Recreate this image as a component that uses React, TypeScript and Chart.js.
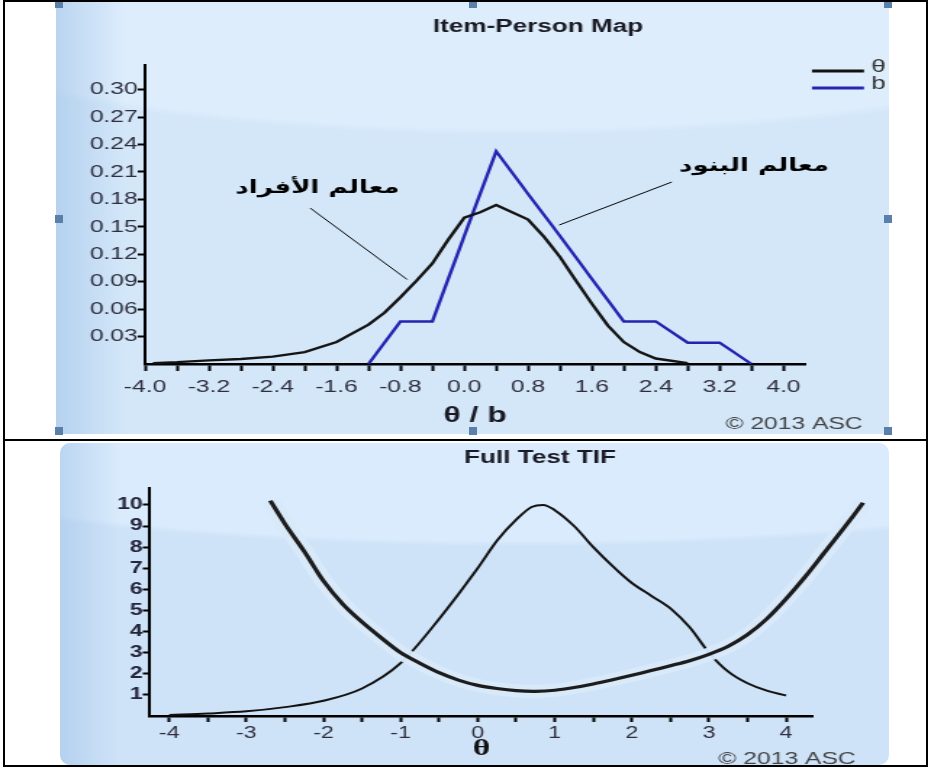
import React, { useEffect, useRef } from 'react';
import { Chart, registerables } from 'chart.js';

Chart.register(...registerables);

// ---------------- Item-Person Map (top) ----------------
const personTheta = [-3.9, -3.6, -3.2, -2.8, -2.4, -2.0, -1.6, -1.2, -1.0, -0.8, -0.6, -0.4, -0.2, 0.0, 0.2, 0.4, 0.8, 1.0, 1.2, 1.4, 1.6, 1.8, 2.0, 2.2, 2.4, 2.8];
const personDensity = [0.001, 0.002, 0.004, 0.0055, 0.008, 0.013, 0.024, 0.043, 0.056, 0.073, 0.091, 0.11, 0.136, 0.16, 0.166, 0.174, 0.158, 0.139, 0.117, 0.091, 0.066, 0.042, 0.024, 0.013, 0.006, 0.001];

const itemB = [-1.2, -0.8, -0.4, 0.0, 0.4, 0.8, 1.2, 1.6, 2.0, 2.4, 2.8, 3.2, 3.6];
const itemDensity = [0, 0.0465, 0.0465, 0.14, 0.2326, 0.186, 0.14, 0.093, 0.0465, 0.0465, 0.0233, 0.0233, 0];

const ipmXTicks = [-4.0, -3.6, -3.2, -2.8, -2.4, -2.0, -1.6, -1.2, -0.8, -0.4, 0.0, 0.4, 0.8, 1.2, 1.6, 2.0, 2.4, 2.8, 3.2, 3.6, 4.0];
const ipmXLabels = ['-4.0', '', '-3.2', '', '-2.4', '', '-1.6', '', '-0.8', '', '0.0', '', '0.8', '', '1.6', '', '2.4', '', '3.2', '', '4.0'];
const ipmYTicks = [0.03, 0.06, 0.09, 0.12, 0.15, 0.18, 0.21, 0.24, 0.27, 0.30];
const ipmYLabels = ['0.03', '0.06', '0.09', '0.12', '0.15', '0.18', '0.21', '0.24', '0.27', '0.30'];

const ipmSeriesNames = ['θ', 'b'];
const ipmNoteTexts = ['معالم الأفراد', 'معالم البنود'];
const ipmNoteTextX = [-1.84, 3.63];
const ipmNoteTextY = [0.1925, 0.216];
const ipmNoteLineX1 = [-1.93, 2.6];
const ipmNoteLineY1 = [0.1705, 0.199];
const ipmNoteLineX2 = [-0.716, 1.19];
const ipmNoteLineY2 = [0.0924, 0.152];

// ---------------- Full Test TIF (bottom) ----------------
const tifTheta = [-4.0, -3.5, -3.0, -2.5, -2.0, -1.5, -1.0, -0.5, 0.0, 0.25, 0.5, 0.7, 0.85, 1.0, 1.25, 1.5, 1.75, 2.0, 2.25, 2.5, 2.75, 3.0, 3.25, 3.5, 3.75, 4.0];
const tifInfo = [0.05, 0.12, 0.22, 0.42, 0.72, 1.3, 2.5, 4.6, 7.0, 8.3, 9.3, 9.9, 10.0, 9.75, 9.0, 8.0, 7.1, 6.3, 5.7, 5.1, 4.2, 3.0, 2.1, 1.55, 1.2, 0.97];

const seTheta = [-2.69, -2.5, -2.25, -2.0, -1.75, -1.5, -1.25, -1.0, -0.75, -0.5, -0.25, 0.0, 0.25, 0.5, 0.75, 1.0, 1.25, 1.5, 1.75, 2.0, 2.25, 2.5, 2.75, 3.0, 3.25, 3.5, 3.75, 4.0, 4.25, 4.5, 4.75, 5.0];
const seValues = [10.2, 9.1, 7.8, 6.4, 5.3, 4.45, 3.7, 3.0, 2.5, 2.05, 1.7, 1.45, 1.3, 1.2, 1.17, 1.22, 1.35, 1.52, 1.72, 1.93, 2.15, 2.38, 2.62, 2.92, 3.3, 3.85, 4.6, 5.55, 6.6, 7.75, 8.9, 10.1];

const tifXTicks = [-4, -3.5, -3, -2.5, -2, -1.5, -1, -0.5, 0, 0.5, 1, 1.5, 2, 2.5, 3, 3.5, 4];
const tifXLabels = ['-4', '', '-3', '', '-2', '', '-1', '', '0', '', '1', '', '2', '', '3', '', '4'];
const tifYTicks = [1, 2, 3, 4, 5, 6, 7, 8, 9, 10];
const tifYLabels = ['1', '2', '3', '4', '5', '6', '7', '8', '9', '10'];

const topTitle = 'Item-Person Map';
const bottomTitle = 'Full Test TIF';
const copyright = '© 2013 ASC';

// The source image is horizontally stretched; the canvases are drawn narrower and stretched by CSS.
const PAGE_W = 931;
const CANVAS_W = 642;
const SX = PAGE_W / CANVAS_W;

const toXY = (xs: number[], ys: number[]) => xs.map((x, i) => ({ x, y: ys[i] }));

type Txt = { text: string; x: number; y: number; font: string; color: string };
type Leg = { text: string; color: string; x1: number; x2: number; y: number; ty: number };
type Note = { text: string; tx: number; ty: number; x1: number; y1: number; x2: number; y2: number };

function makeDecor(texts: Txt[], legend: Leg[], notes: Note[]) {
  return {
    id: 'decor',
    afterDraw(chart: any) {
      const ctx = chart.ctx as CanvasRenderingContext2D;
      ctx.save();
      texts.forEach((t) => {
        ctx.font = t.font;
        ctx.fillStyle = t.color;
        ctx.textAlign = 'center';
        ctx.textBaseline = 'middle';
        ctx.fillText(t.text, t.x, t.y);
      });
      legend.forEach((l) => {
        ctx.strokeStyle = l.color;
        ctx.lineWidth = 3;
        ctx.beginPath();
        ctx.moveTo(l.x1, l.y);
        ctx.lineTo(l.x2, l.y);
        ctx.stroke();
        ctx.font = '18px "Liberation Sans", Arial, sans-serif';
        ctx.fillStyle = '#333';
        ctx.textAlign = 'left';
        ctx.textBaseline = 'middle';
        ctx.fillText(l.text, l.x2 + 5, l.ty);
      });
      const xs = chart.scales.x;
      const ys = chart.scales.y;
      notes.forEach((n) => {
        ctx.strokeStyle = '#000';
        ctx.lineWidth = 1;
        ctx.beginPath();
        ctx.moveTo(xs.getPixelForValue(n.x1), ys.getPixelForValue(n.y1));
        ctx.lineTo(xs.getPixelForValue(n.x2), ys.getPixelForValue(n.y2));
        ctx.stroke();
        ctx.font = 'bold 18px "DejaVu Sans", sans-serif';
        ctx.fillStyle = '#000';
        ctx.direction = 'rtl';
        ctx.textAlign = 'center';
        ctx.textBaseline = 'middle';
        ctx.fillText(n.text, xs.getPixelForValue(n.tx), ys.getPixelForValue(n.ty));
      });
      ctx.restore();
    },
  };
}

const tickFont = { family: '"Liberation Sans", Arial, sans-serif', size: 17 };

function ItemPersonMap() {
  const ref = useRef<HTMLCanvasElement | null>(null);
  useEffect(() => {
    if (!ref.current) return;
    const notes: Note[] = ipmNoteTexts.map((t, i) => ({
      text: t, tx: ipmNoteTextX[i], ty: ipmNoteTextY[i],
      x1: ipmNoteLineX1[i], y1: ipmNoteLineY1[i], x2: ipmNoteLineX2[i], y2: ipmNoteLineY2[i],
    }));
    const decor = makeDecor(
      [
        { text: topTitle, x: 538 / SX, y: 27, font: 'bold 18px "Liberation Sans", Arial, sans-serif', color: '#1a1a24' },
        { text: copyright, x: 794 / SX, y: 424, font: '17px "Liberation Sans", Arial, sans-serif', color: '#444' },
      ],
      [
        { text: ipmSeriesNames[0], color: '#111', x1: 812 / SX, x2: 864 / SX, y: 71, ty: 67 },
        { text: ipmSeriesNames[1], color: '#2626b0', x1: 812 / SX, x2: 864 / SX, y: 88, ty: 84 },
      ],
      notes,
    );
    const chart = new Chart(ref.current, {
      type: 'line',
      data: {
        datasets: [
          { label: ipmSeriesNames[0], data: toXY(personTheta, personDensity), borderColor: '#141414', borderWidth: 2.4, pointRadius: 0, tension: 0, fill: false },
          { label: ipmSeriesNames[1], data: toXY(itemB, itemDensity), borderColor: '#2323b0', borderWidth: 2.4, pointRadius: 0, tension: 0, fill: false },
        ],
      },
      options: {
        animation: false,
        responsive: false,
        maintainAspectRatio: false,
        devicePixelRatio: 1,
        layout: { padding: { left: 40, right: CANVAS_W - 805 / SX, top: 65, bottom: 10 } },
        plugins: { legend: { display: false }, tooltip: { enabled: false }, title: { display: false } },
        scales: {
          x: {
            type: 'linear', min: -4.0, max: 4.27,
            afterBuildTicks: (s: any) => { s.ticks = ipmXTicks.map((v) => ({ value: v })); },
            afterFit: (s: any) => { s.height = 65; },
            ticks: { autoSkip: false, maxRotation: 0, minRotation: 0, padding: 6, color: '#2e2e3e', font: tickFont, callback: (_v: any, i: number) => ipmXLabels[i] },
            grid: { display: true, drawOnChartArea: false, drawTicks: true, tickLength: 7, tickWidth: 2, color: '#000' },
            border: { display: true, color: '#000', width: 2.5 },
            title: { display: true, text: 'θ / b', color: '#1a1a24', padding: 0, font: { family: '"Liberation Sans", Arial, sans-serif', size: 22, weight: 'bold' } },
          },
          y: {
            type: 'linear', min: 0, max: 0.327,
            afterBuildTicks: (s: any) => { s.ticks = ipmYTicks.map((v) => ({ value: v })); },
            afterFit: (s: any) => { s.width = 60; },
            ticks: { autoSkip: false, padding: 0, color: '#2e2e3e', font: tickFont, callback: (_v: any, i: number) => ipmYLabels[i] },
            grid: { display: true, drawOnChartArea: false, drawTicks: true, tickLength: 5, tickWidth: 2, color: '#000' },
            border: { display: true, color: '#000', width: 2 },
          },
        },
      },
      plugins: [decor],
    } as any);
    return () => chart.destroy();
  }, []);
  return (
    <canvas
      ref={ref}
      width={CANVAS_W}
      height={439}
      style={{ position: 'absolute', left: 0, top: 0, width: PAGE_W, height: 439 }}
    />
  );
}

function FullTestTIF() {
  const ref = useRef<HTMLCanvasElement | null>(null);
  useEffect(() => {
    if (!ref.current) return;
    const decor = makeDecor(
      [
        { text: bottomTitle, x: 540 / SX, y: 17, font: 'bold 18px "Liberation Sans", Arial, sans-serif', color: '#1a1a24' },
        { text: copyright, x: 787 / SX, y: 318, font: '17px "Liberation Sans", Arial, sans-serif', color: '#444' },
      ],
      [],
      [],
    );
    const se = toXY(seTheta, seValues);
    const chart = new Chart(ref.current, {
      type: 'line',
      data: {
        datasets: [
          // standard error curve (drawn on top); reversed order so points past the axis end are kept
          { label: 'SE', data: se.slice().reverse(), borderColor: '#1c1c1c', borderWidth: 3.2, pointRadius: 0, tension: 0.3, fill: false, clip: false },
          // light halo around the SE curve
          { label: 'halo', data: se.slice().reverse(), borderColor: 'rgba(216,233,250,0.95)', borderWidth: 13, pointRadius: 0, tension: 0.3, fill: false, clip: false },
          { label: 'TIF', data: toXY(tifTheta, tifInfo), borderColor: '#121212', borderWidth: 2, pointRadius: 0, cubicInterpolationMode: 'monotone', fill: false },
        ],
      },
      options: {
        animation: false,
        responsive: false,
        maintainAspectRatio: false,
        devicePixelRatio: 1,
        layout: { padding: { left: 150 / SX - 50, right: CANVAS_W - 813 / SX, top: 47, bottom: 5 } },
        plugins: { legend: { display: false }, tooltip: { enabled: false }, title: { display: false } },
        scales: {
          x: {
            type: 'linear', min: -4.25, max: 4.35,
            afterBuildTicks: (s: any) => { s.ticks = tifXTicks.map((v) => ({ value: v })); },
            afterFit: (s: any) => { s.height = 47; },
            ticks: { autoSkip: false, maxRotation: 0, minRotation: 0, padding: 2, color: '#2e2e3e', font: { family: '"Liberation Sans", Arial, sans-serif', size: 16 }, callback: (_v: any, i: number) => tifXLabels[i] },
            grid: { display: true, drawOnChartArea: false, drawTicks: true, tickLength: 6, tickWidth: 2, color: '#000' },
            border: { display: true, color: '#000', width: 2.5 },
            title: { display: true, text: 'θ', color: '#111', padding: 0, font: { family: '"Liberation Serif", "Times New Roman", serif', size: 23, weight: 'bold' } },
          },
          y: {
            type: 'linear', min: 0, max: 10.8,
            afterBuildTicks: (s: any) => { s.ticks = tifYTicks.map((v) => ({ value: v })); },
            afterFit: (s: any) => { s.width = 50; },
            ticks: { autoSkip: false, padding: 0, color: '#24243a', font: { family: '"Liberation Sans", Arial, sans-serif', size: 16, weight: 'bold' }, callback: (_v: any, i: number) => tifYLabels[i] },
            grid: { display: true, drawOnChartArea: false, drawTicks: true, tickLength: 5, tickWidth: 2, color: '#000' },
            border: { display: true, color: '#000', width: 2 },
          },
        },
      },
      plugins: [decor],
    } as any);
    return () => chart.destroy();
  }, []);
  return (
    <canvas
      ref={ref}
      width={CANVAS_W}
      height={327}
      style={{ position: 'absolute', left: 0, top: 441, width: PAGE_W, height: 327 }}
    />
  );
}

const handleStyle = (x: number, y: number): React.CSSProperties => ({
  position: 'absolute', left: x, top: y, width: 8, height: 8, background: '#5a7fa9',
});

export default function App() {
  return (
    <div style={{ position: 'absolute', left: 0, top: 0, width: PAGE_W, height: 768, background: '#fff', overflow: 'hidden' }}>
      {/* top panel background */}
      <div
        style={{
          position: 'absolute', left: 56, top: 0, width: 833, height: 434,
          background:
            'linear-gradient(90deg, rgba(150,188,228,0.5) 0px, rgba(150,188,228,0) 70px), radial-gradient(ellipse 80% 31% at 55% 0%, #ddedfc 0%, #ddedfc 95%, #d4e7f9 100%)',
        }}
      />
      {/* selection handles */}
      <div style={handleStyle(55, 0)} />
      <div style={handleStyle(469, 0)} />
      <div style={handleStyle(884, 0)} />
      <div style={handleStyle(55, 215)} />
      <div style={handleStyle(884, 215)} />
      <div style={handleStyle(55, 427)} />
      <div style={handleStyle(469, 427)} />
      <div style={handleStyle(884, 427)} />
      <ItemPersonMap />
      {/* bottom panel background */}
      <div
        style={{
          position: 'absolute', left: 60, top: 443, width: 829, height: 322, borderRadius: 10,
          background:
            'linear-gradient(90deg, rgba(150,188,228,0.45) 0px, rgba(150,188,228,0) 60px), radial-gradient(ellipse 85% 32% at 55% 0%, #d9ebfc 0%, #d9ebfc 95%, #cfe3f8 100%)',
        }}
      />
      <FullTestTIF />
      {/* table frame */}
      <div style={{ position: 'absolute', left: 3, top: 0, width: 925, height: 767, border: '2px solid #000', boxSizing: 'border-box', pointerEvents: 'none' }} />
      <div style={{ position: 'absolute', left: 3, top: 439, width: 925, height: 2, background: '#000' }} />
    </div>
  );
}
